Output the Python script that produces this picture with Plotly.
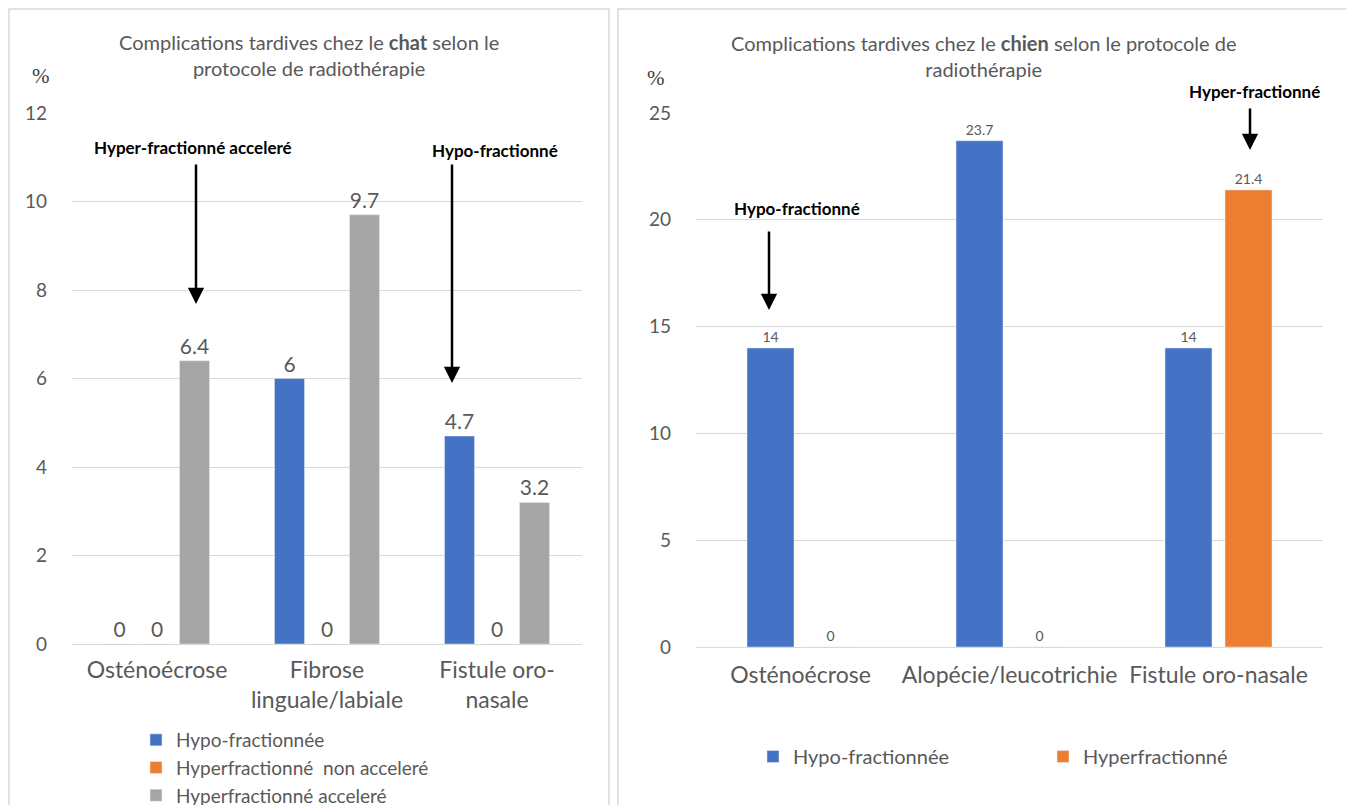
import plotly.graph_objects as go

# ---- Data ----
cat_chat = ["Osténoécrose", "Fibrose<br>linguale/labiale", "Fistule oro-<br>nasale"]
chat_hypo = [0, 6, 4.7]
chat_hyper_non_acc = [0, 0, 0]
chat_hyper_acc = [6.4, 9.7, 3.2]

cat_chien = ["Osténoécrose", "Alopécie/leucotrichie", "Fistule oro-nasale"]
chien_hypo = [14, 23.7, 14]
chien_hyper = [0, 0, 21.4]

left_ticks = [0, 2, 4, 6, 8, 10, 12]
right_ticks = [0, 5, 10, 15, 20, 25]

BLUE = "#4472C4"
ORANGE = "#ED7D31"
GRAY = "#A5A5A5"
TXT = "#595959"
GRID = "#D9D9D9"
FONT = "Lato"

# page body has an 8px margin: compensate so that the figure lands where the reference is
OFF = 8
W, H = 1354 - OFF, 805 - OFF

def px(x):
    return (x - OFF) / W

def py(y):
    return 1 - (y - OFF) / H

fig = go.Figure()

# left chart geometry (category units)
lslot = 37.5 / 170
lw = 30 / 170
for i, (name, vals, col) in enumerate([
    ("Hypo-fractionnée", chat_hypo, BLUE),
    ("Hyperfractionné  non acceleré", chat_hyper_non_acc, ORANGE),
    ("Hyperfractionné acceleré", chat_hyper_acc, GRAY),
]):
    fig.add_trace(go.Bar(
        x=cat_chat, y=vals, name=name, marker_color=col,
        width=lw, offset=(i - 1) * lslot - lw / 2,
        text=[str(v) for v in vals], textposition="outside",
        textfont=dict(size=21, color=TXT, family=FONT),
        cliponaxis=False, xaxis="x", yaxis="y", legend="legend",
    ))

rslot = 60 / 209
rw = 47 / 209
for i, (name, vals, col) in enumerate([
    ("Hypo-fractionnée", chien_hypo, BLUE),
    ("Hyperfractionné", chien_hyper, ORANGE),
]):
    fig.add_trace(go.Bar(
        x=cat_chien, y=vals, name=name, marker_color=col,
        width=rw, offset=(i - 0.5) * rslot - rw / 2,
        text=[str(v) for v in vals], textposition="outside",
        textfont=dict(size=14, color=TXT, family=FONT),
        cliponaxis=False, xaxis="x2", yaxis="y2", legend="legend2",
    ))

axis_common = dict(
    showgrid=False, zeroline=False, showline=False, ticks="", automargin=False,
    tickfont=dict(size=23, color=TXT, family=FONT), fixedrange=True,
)
yaxis_common = dict(
    showgrid=True, gridcolor=GRID, gridwidth=1, zeroline=True, zerolinecolor=GRID,
    zerolinewidth=1, showline=False, ticks="", automargin=False,
    tickfont=dict(size=19, color=TXT, family=FONT), ticklabelstandoff=24,
)

fig.update_layout(
    width=W, height=H,
    margin=dict(l=0, r=0, t=0, b=0, autoexpand=False),
    paper_bgcolor="white", plot_bgcolor="white",
    barmode="group",
    font=dict(family=FONT, color=TXT),
    xaxis=dict(domain=[px(72), px(582)], anchor="y", ticklabelstandoff=10, **axis_common),
    yaxis=dict(domain=[py(644), py(113)], anchor="x", range=[0, 12],
               tickvals=left_ticks, **yaxis_common),
    xaxis2=dict(domain=[px(696), px(1323)], anchor="y2", ticklabelstandoff=12, **axis_common),
    yaxis2=dict(domain=[py(647), py(113)], anchor="x2", range=[0, 25],
                tickvals=right_ticks, **yaxis_common),
    legend=dict(
        x=px(136), y=py(721), xanchor="left", yanchor="top",
        orientation="v", font=dict(size=19, color=TXT, family=FONT),
        bgcolor="rgba(0,0,0,0)", tracegroupgap=0, itemwidth=30,
    ),
    legend2=dict(
        x=px(753), y=py(737), xanchor="left", yanchor="top",
        orientation="h", font=dict(size=20, color=TXT, family=FONT),
        bgcolor="rgba(0,0,0,0)", entrywidth=245, entrywidthmode="pixels",
        itemwidth=30,
    ),
)

# panel borders
for x0, x1 in [(9, 609), (618, 1350)]:
    fig.add_shape(type="rect", xref="paper", yref="paper",
                  x0=px(x0), x1=px(x1), y0=py(9), y1=-0.05,
                  line=dict(color=GRID, width=1.5), fillcolor="rgba(0,0,0,0)", layer="below")

ann = []
tfont = dict(size=20, color=TXT, family=FONT)
# titles
ann.append(dict(x=px(309), y=py(55.5), xref="paper", yref="paper", xanchor="center", yanchor="middle",
                text="Complications tardives chez le <b>chat</b> selon le<br>protocole de radiothérapie",
                showarrow=False, font=tfont, align="center"))
ann.append(dict(x=px(983), y=py(56), xref="paper", yref="paper", xanchor="center", yanchor="middle",
                text="Complications tardives chez le <b>chien</b> selon le protocole de<br>radiothérapie",
                showarrow=False, font=tfont, align="center"))
# % labels
pfont = dict(size=21, color="#404040", family="Liberation Serif")
ann.append(dict(x=px(41), y=py(76), xref="paper", yref="paper", xanchor="center", yanchor="middle",
                text="%", showarrow=False, font=pfont))
ann.append(dict(x=px(656), y=py(78), xref="paper", yref="paper", xanchor="center", yanchor="middle",
                text="%", showarrow=False, font=pfont))

bold = dict(size=17, color="black", family=FONT)
labels = [
    ("Hyper-fractionné acceleré", 193, 147),
    ("Hypo-fractionné", 495, 151),
    ("Hypo-fractionné", 797, 208),
    ("Hyper-fractionné", 1254, 92),
]
for txt, x, y in labels:
    ann.append(dict(x=px(x), y=py(y), xref="paper", yref="paper", xanchor="center", yanchor="middle",
                    text="<b>" + txt + "</b>", showarrow=False, font=bold))

arrows = [
    (196, 163, 304),
    (452, 163, 383),
    (769, 230, 310),
    (1250, 107, 150),
]
for x, y_tail, y_tip in arrows:
    ann.append(dict(x=px(x), y=py(y_tip), xref="paper", yref="paper",
                    ax=0, ay=-(y_tip - y_tail), axref="pixel", ayref="pixel",
                    text="", showarrow=True, arrowhead=2, arrowsize=1.3,
                    arrowwidth=2.5, arrowcolor="black", standoff=0))

fig.update_layout(annotations=ann)

fig.write_html("out.html")
